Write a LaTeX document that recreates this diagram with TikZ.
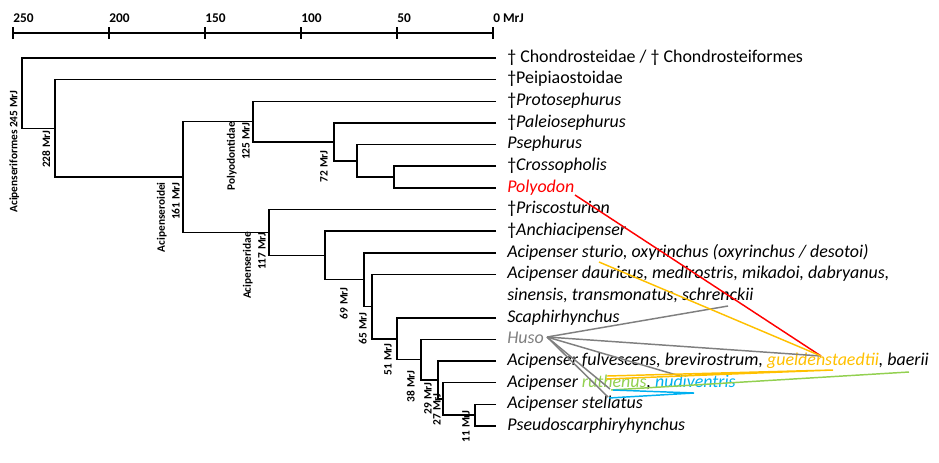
\documentclass[tikz,border=0pt]{standalone}
\usepackage{fontspec}
\setmainfont{Carlito}
\definecolor{husogray}{HTML}{7F7F7F}
\definecolor{gueldgold}{HTML}{FFC000}
\definecolor{ruthgreen}{HTML}{92D050}
\definecolor{nudiblue}{HTML}{00B0F0}
\definecolor{polyred}{HTML}{FF0000}
\tikzset{branch/.style={black,line width=1.15pt},
  leaf/.style={anchor=west,inner sep=0pt,text height=9.5pt,text depth=3pt,font=\fontsize{13.45}{16.2}\selectfont},
  age/.style={rotate=90,anchor=south east,inner sep=0pt,align=right,font=\bfseries\fontsize{8.5}{11}\selectfont},
  ticklabel/.style={anchor=base west,inner sep=0pt,font=\bfseries\fontsize{10}{12}\selectfont},
  hybrid/.style={line width=1.1pt}}

\begin{document}
\begin{tikzpicture}[x=0.75pt,y=-0.75pt]
  \useasboundingbox (0,0) rectangle (939,462);
  % time axis
  \draw[line width=2pt] (13,33) -- (493,33);
  \foreach \t/\x in {250/13,200/109,150/205,100/301,50/397}{
    \draw[line width=2pt] (\x,27) -- (\x,39);
    \node[ticklabel] (tick\t) at (\x,22) {\t};
  }
  \draw[line width=2pt] (493,27) -- (493,39);
  \node[ticklabel] (tick0) at (493,22) {0 MrJ};

  % leaves
  \coordinate (l1) at (496,58);
  \coordinate (l2) at (496,79.6);
  \coordinate (l3) at (496,101.3);
  \coordinate (l4) at (496,122.9);
  \coordinate (l5) at (496,144.6);
  \coordinate (l6) at (496,166.2);
  \coordinate (l7) at (496,187.9);
  \coordinate (l8) at (496,209.5);
  \coordinate (l9) at (496,231.2);
  \coordinate (l10) at (496,252.8);
  \coordinate (l11) at (496,274.5);
  \coordinate (l12) at (496,317.8);
  \coordinate (l13) at (496,339.4);
  \coordinate (l14) at (496,361.1);
  \coordinate (l15) at (496,382.7);
  \coordinate (l16) at (496,404.4);
  \coordinate (l17) at (496,426);

  \node[leaf] (t1) at (507,58) {† Chondrosteidae / † Chondrosteiformes};
  \node[leaf] (t2) at (507,79.6) {†Peipiaostoidae};
  \node[leaf] (t3) at (507,101.3) {†\textit{Protosephurus}};
  \node[leaf] (t4) at (507,122.9) {†\textit{Paleiosephurus}};
  \node[leaf] (t5) at (507,144.6) {\textit{Psephurus}};
  \node[leaf] (t6) at (507,166.2) {†\textit{Crossopholis}};
  \node[leaf,text=polyred] (t7) at (507,187.9) {\textit{Polyodon}};
  \node[leaf] (t8) at (507,209.5) {†\textit{Priscosturion}};
  \node[leaf] (t9) at (507,231.2) {†\textit{Anchiacipenser}};
  \node[leaf] (t10) at (507,252.8) {\textit{Acipenser sturio, oxyrinchus (oxyrinchus / desotoi)}};
  \node[leaf] (t11) at (507,274.5) {\textit{Acipenser dauricus, medirostris, mikadoi, dabryanus,}};
  \node[leaf] (t11b) at (507,296.1) {\textit{sinensis, transmonatus, schrenckii}};
  \node[leaf] (t12) at (507,317.8) {\textit{Scaphirhynchus}};
  \node[leaf,text=husogray] (t13) at (507,339.4) {\textit{Huso}};
  \node[leaf] (t14) at (507,361.1) {\textit{Acipenser fulvescens, brevirostrum, \textcolor{gueldgold}{gueldenstaedtii}, baerii}};
  \node[leaf] (t15) at (507,382.7) {\textit{Acipenser \textcolor{ruthgreen}{ruthenus}, \textcolor{nudiblue}{nudiventris}}};
  \node[leaf] (t16) at (507,404.4) {\textit{Acipenser stellatus}};
  \node[leaf] (t17) at (507,426) {\textit{Pseudoscarphiryhynchus}};

  % splits
  \coordinate (n245) at (22,93.2);
  \coordinate (n228) at (55,128.3);
  \coordinate (n161) at (183,177);
  \coordinate (n125) at (253,121.6);
  \coordinate (n72) at (334,141.9);
  \coordinate (npse) at (357,160.8);
  \coordinate (ncro) at (394,177);
  \coordinate (n117) at (269,232.5);
  \coordinate (nanc) at (325,255.5);
  \coordinate (n69) at (364,279.7);
  \coordinate (n65) at (372,306.6);
  \coordinate (n51) at (397,338.8);
  \coordinate (n38) at (421,359.7);
  \coordinate (n29) at (438,380);
  \coordinate (n27) at (443,399);
  \coordinate (n11) at (475,415.2);

  \draw[branch] (l1) -| (n245) |- (n228);
  \draw[branch] (l2) -| (n228) |- (n161);
  \draw[branch] (n125) -| (n161) |- (n117);
  \draw[branch] (l3) -| (n125) |- (n72);
  \draw[branch] (l4) -| (n72) |- (npse);
  \draw[branch] (l5) -| (npse) |- (ncro);
  \draw[branch] (l6) -| (ncro) |- (l7);
  \draw[branch] (l8) -| (n117) |- (nanc);
  \draw[branch] (l9) -| (nanc) |- (n69);
  \draw[branch] (l10) -| (n69) |- (n65);
  \draw[branch] (l11) -| (n65) |- (n51);
  \draw[branch] (l12) -| (n51) |- (n38);
  \draw[branch] (l13) -| (n38) |- (n29);
  \draw[branch] (l14) -| (n29) |- (n27);
  \draw[branch] (l15) -| (n27) |- (n11);
  \draw[branch] (l16) -| (n11) |- (l17);

  % ages
  \node[age] (a245) at (19.5,90) {Acipenseriformes 245 MrJ};
  \node[age] (a228) at (50.5,130) {228 MrJ};
  \node[age] (a161) at (180,182) {Acipenseroidei\\161 MrJ};
  \node[age] (a125) at (250,122) {Polyodontidae\\125 MrJ};
  \node[age] (a117) at (266,232) {Acipenseridae\\117 MrJ};
  \node[age] (a72) at (328,150) {72 MrJ};
  \node[age] (a69) at (348,287) {69 MrJ};
  \node[age] (a65) at (367,312) {65 MrJ};
  \node[age] (a51) at (392,343) {51 MrJ};
  \node[age] (a38) at (415,370) {38 MrJ};
  \node[age] (a29) at (432,382) {29 MrJ};
  \node[age] (a27) at (441,393) {27 MrJ};
  \node[age] (a11) at (470,410) {11 MrJ};

  % hybrids
  \coordinate (hub) at (821,356);
  \coordinate (polend) at (575,195);
  \coordinate (sturend) at (599,262);
  \coordinate (husoend) at (547,337);
  \coordinate (schrend) at (728,306);
  \coordinate (fulend) at (680,376);
  \coordinate (ruthA) at (610,389);
  \coordinate (stelA) at (608,397);
  \coordinate (gueldB) at (833,370);
  \coordinate (ruthB) at (607,376);
  \coordinate (ruthC) at (606,379);
  \coordinate (baerend) at (909,372);
  \coordinate (ruthD) at (611,390);
  \coordinate (nudend) at (694,393);
  \coordinate (ruthE) at (613,390);
  \coordinate (stelB) at (609,398);

  \draw[hybrid,husogray] (husoend) -- (schrend);
  \draw[hybrid,husogray] (husoend) -- (hub);
  \draw[hybrid,husogray] (husoend) -- (fulend);
  \draw[hybrid,husogray] (husoend) -- (ruthA);
  \draw[hybrid,husogray] (husoend) -- (stelA);
  \draw[hybrid,polyred] (polend) -- (hub);
  \draw[hybrid,gueldgold] (sturend) -- (hub);
  \draw[hybrid,gueldgold] (ruthB) -- (gueldB) -- (ruthC);
  \draw[hybrid,ruthgreen] (baerend) -- (ruthD);
  \draw[hybrid,nudiblue] (ruthE) -- (nudend) -- (stelB);
\end{tikzpicture}
\end{document}
